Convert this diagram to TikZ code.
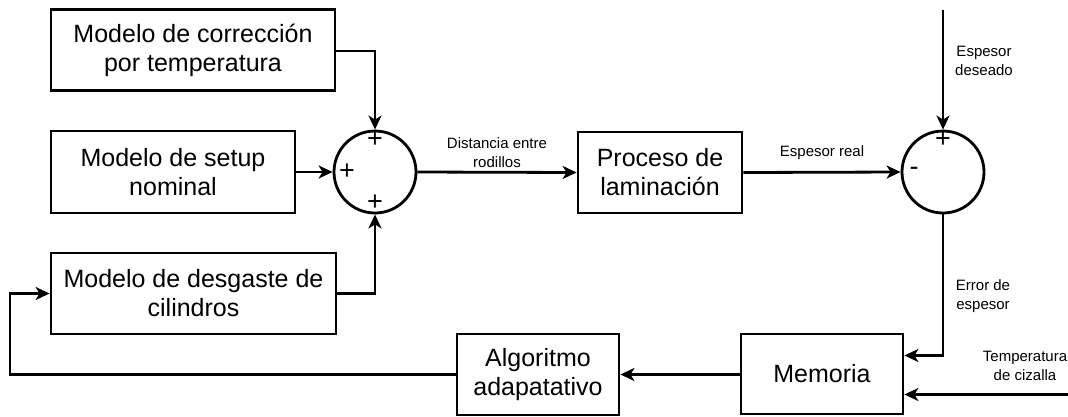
\documentclass[tikz,border=0pt]{standalone}
\usepackage{fontspec}
\setmainfont{Liberation Sans}
\usetikzlibrary{arrows.meta}
\begin{document}
\begin{tikzpicture}[x=1pt,y=-1pt,
  blk/.style={draw,line width=2.8pt,rectangle,inner sep=0pt,align=center,
    font=\fontsize{25}{29}\selectfont},
  sumc/.style={draw,line width=2.8pt,circle,minimum size=82pt,inner sep=0pt},
  lbl/.style={align=center,font=\fontsize{15}{18.5}\selectfont,inner sep=0pt},
  sgn/.style={inner sep=0pt,font=\fontsize{27}{27}\selectfont},
  conn/.style={line width=2.8pt,-{Stealth[length=14pt,width=13pt,inset=4pt]}},
  wire/.style={line width=2.8pt}]
\useasboundingbox (0,0) rectangle (1068,416);
% blocks
\node[blk,minimum width=284pt,minimum height=81pt] (corr) at (193,50) {Modelo de corrección\\por temperatura};
\node[blk,minimum width=244pt,minimum height=82pt] (setup) at (173,172) {Modelo de setup\\nominal};
\node[blk,minimum width=285pt,minimum height=81pt] (desg) at (193.5,293.5) {Modelo de desgaste de\\cilindros};
\node[blk,minimum width=164pt,minimum height=81pt] (proc) at (660,172.5) {Proceso de\\laminación};
\node[blk,minimum width=162pt,minimum height=81pt] (alg) at (538,374.5) {Algoritmo\\adapatativo};
\node[blk,minimum width=162pt,minimum height=80pt] (mem) at (822,374) {Memoria};
% summing junctions
\node[sumc] (s1) at (375,172) {};
\node[sgn] (s1t) at (375,140) {+};
\node[sgn] (s1l) at (347,172) {+};
\node[sgn] (s1b) at (375,203) {+};
\node[sumc] (s2) at (943,172) {};
\node[sgn] (s2t) at (943,140) {+};
\node[sgn] (s2l) at (914,171) {-};
% free ends
\coordinate (top) at (943,10);
\coordinate (temp) at (1068,394.5);
\coordinate (fbl) at (10,374.5);
% connectors
\draw[conn] (corr.east |- 0,51) -| (s1.north);
\draw[conn] (setup.east) -- (s1.west);
\draw[conn] (desg.east) -| (s1.south);
\draw[conn] (s1.east) -- (proc.west);
\draw[conn] (proc.east) -- (s2.west);
\draw[conn] (top) -- (s2.north);
\draw[conn] (s2.south) |- (mem.east |- 0,355.5);
\draw[conn] (temp) -- (mem.east |- temp);
\draw[conn] (mem.west |- alg.east) -- (alg.east);
\draw[conn] (alg.west) -- (fbl) |- (desg.west);
% labels
\node[lbl] (l1) at (497,152.5) {Distancia entre\\rodillos};
\node[lbl] (l2) at (822,153) {Espesor real};
\node[lbl] (l3) at (984,61) {Espesor\\deseado};
\node[lbl] (l4) at (983,296) {Error de\\espesor};
\node[lbl] (l5) at (1025,366) {Temperatura\\de cizalla};
\end{tikzpicture}
\end{document}
